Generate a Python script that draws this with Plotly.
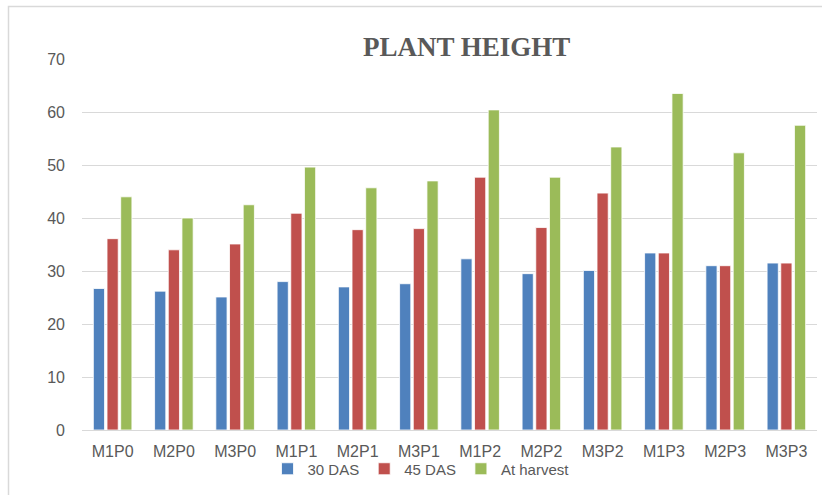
import plotly.graph_objects as go

categories = ["M1P0", "M2P0", "M3P0", "M1P1", "M2P1", "M3P1",
              "M1P2", "M2P2", "M3P2", "M1P3", "M2P3", "M3P3"]
das30 = [26.7, 26.2, 25.1, 28.0, 27.0, 27.6, 32.3, 29.5, 30.1, 33.4, 31.0, 31.5]
das45 = [36.1, 34.0, 35.1, 40.9, 37.8, 38.0, 47.7, 38.2, 44.7, 33.4, 31.0, 31.5]
harvest = [44.0, 40.0, 42.5, 49.6, 45.7, 47.0, 60.4, 47.7, 53.4, 63.5, 52.3, 57.5]
series_names = ["30 DAS", "45 DAS", "At harvest"]
colors = ["#4F81BD", "#C0504D", "#9BBB59"]
yticks = [0, 10, 20, 30, 40, 50, 60, 70]

W, H = 822, 495
L, R, T, B = 82, 5, 59, 65
pw, ph = W - L - R, H - T - B

def px_x(p):
    return (p - L) / pw

def px_y(p):
    return (H - B - p) / ph

fig = go.Figure()
for name, vals, c in zip(series_names, [das30, das45, harvest], colors):
    fig.add_trace(go.Bar(
        x=categories, y=vals, name=name,
        marker=dict(color=c, line=dict(color="rgba(255,255,255,0.8)", width=1)),
    ))

fig.update_layout(
    width=W, height=H,
    margin=dict(l=L, r=R, t=T, b=B),
    paper_bgcolor="white", plot_bgcolor="white",
    barmode="group", bargap=0.33, bargroupgap=0.18,
    font=dict(family="Liberation Sans, Arial, sans-serif", size=16, color="#595959"),
    xaxis=dict(showgrid=False, showline=True, linecolor="#D9D9D9", linewidth=1,
               ticks="", ticklabelstandoff=7, tickfont=dict(size=16, color="#595959")),
    yaxis=dict(range=[0, 70], tickvals=yticks, showgrid=True, gridcolor="#D9D9D9",
               gridwidth=1, zeroline=False, showline=False, ticks="",
               ticklabelstandoff=16, tickfont=dict(size=16, color="#595959")),
    legend=dict(orientation="h", x=px_x(421), xanchor="center",
                y=px_y(469), yanchor="middle", font=dict(size=15, color="#595959"),
                bgcolor="rgba(0,0,0,0)", itemwidth=30, tracegroupgap=0),
    showlegend=True,
)

fig.add_annotation(text="<b>PLANT HEIGHT</b>", xref="paper", yref="paper",
                   x=px_x(466), y=px_y(47), xanchor="center", yanchor="middle",
                   showarrow=False,
                   font=dict(family="Liberation Serif, Times New Roman, serif", size=27, color="#595959"))

fig.add_shape(type="rect", xref="paper", yref="paper",
              x0=px_x(8.5), x1=px_x(830), y0=px_y(500), y1=px_y(6.5),
              line=dict(color="#D9D9D9", width=1.5), layer="below")

fig.write_html("out.html", config={"displayModeBar": False},
               post_script="document.body.style.margin='0';document.body.style.overflow='hidden';")
